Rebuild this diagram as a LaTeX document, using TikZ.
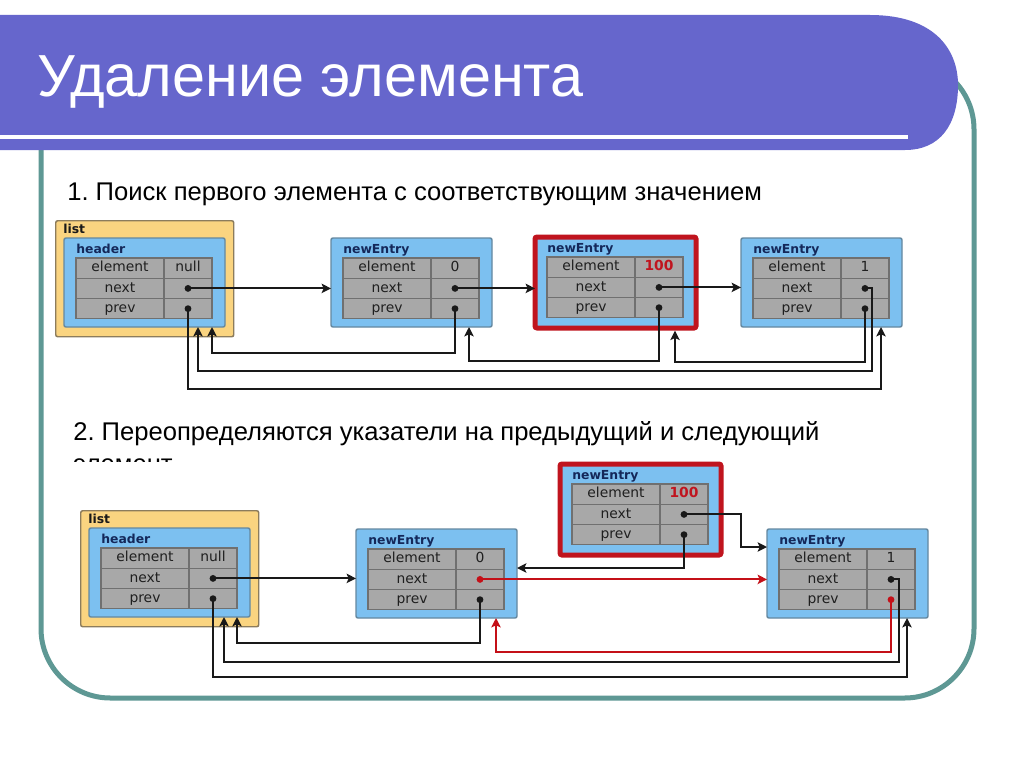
\documentclass[tikz,border=0pt]{standalone}
\usepackage{fontspec}
\setmainfont{Liberation Sans}
\newfontfamily\boxfont{DejaVu Sans}
\usetikzlibrary{arrows.meta, calc, positioning}
\definecolor{band}{RGB}{102,102,204}
\definecolor{frameteal}{RGB}{94,152,148}
\definecolor{listyellow}{RGB}{250,212,128}
\definecolor{listedge}{RGB}{140,124,92}
\definecolor{boxblue}{RGB}{124,192,240}
\definecolor{boxedge}{RGB}{100,136,160}
\definecolor{cellgray}{RGB}{168,168,168}
\definecolor{celledge}{RGB}{112,112,112}
\definecolor{tagblue}{RGB}{20,40,90}
\definecolor{hotred}{RGB}{192,20,30}
\definecolor{wirered}{RGB}{196,16,24}
\frenchspacing

\begin{document}
\begin{tikzpicture}[x=0.75pt, y=0.75pt,
	box/.style={draw=boxedge, fill=boxblue, line width=1.1pt, rounded corners=1.5pt,
		minimum width=120.75pt, minimum height=66.75pt, inner sep=0pt, outer sep=0pt, anchor=north west},
	hot/.style={draw=hotred, line width=3.75pt, minimum height=68.25pt},
	listbox/.style={draw=listedge, fill=listyellow, line width=1.1pt, rounded corners=1.5pt,
		minimum width=133.5pt, minimum height=87pt, inner sep=0pt, anchor=north west},
	tag/.style={anchor=base west, inner sep=0pt, text=tagblue, font=\boxfont\bfseries\fontsize{9.3}{9}\selectfont},
	cell/.style={draw=celledge, fill=cellgray, line width=0.9pt, inner sep=0pt, outer sep=0pt,
		minimum height=15.2pt, text height=7.5pt, text depth=2pt, text=black!88,
		font=\boxfont\fontsize{10.4}{11}\selectfont},
	keycell/.style={cell, minimum width=66pt},
	valcell/.style={cell, minimum width=36pt},
	wire/.style={draw=black!90, line width=1.4pt, shorten <=-2.5pt,
		{Circle[length=5pt]}-{Stealth[length=7pt, width=7pt, inset=1.5pt]}},
	redwire/.style={wire, draw=wirered},
	caption/.style={anchor=base west, inner sep=0pt, font=\fontsize{19.2}{23}\selectfont}]
	\def\entry#1#2#3#4#5#6{%
		\node[box, #6] (#1) at (#2,-#3) {};
		\node[tag] at ($(#1.north west)+(12,-15)$) {#4};
		\node[keycell, anchor=north west] (#1-ek) at ($(#1.north west)+(12,-20)$) {element};
		\node[valcell, right=0pt of #1-ek] (#1-ev) {#5};
		\node[keycell, below=0pt of #1-ek] (#1-nk) {next};
		\node[valcell, right=0pt of #1-nk] (#1-nv) {};
		\node[keycell, below=0pt of #1-nk] (#1-pk) {prev};
		\node[valcell, right=0pt of #1-pk] (#1-pv) {};
	}
	\def\hundred{\textcolor{hotred}{\bfseries 100}}
	\useasboundingbox (0,0) rectangle (1024,-767);
	\fill[white] (0,0) rectangle (1024,-767);
	\draw[frameteal, line width=3.75pt, rounded corners=52pt] (41,-60) rectangle (974,-698);
	\fill[band] (0,-15) -- (870,-15) .. controls (935,-15) and (958,-50) .. (958,-85)
		.. controls (958,-125) and (940,-150) .. (905,-150) -- (0,-150) -- cycle;
	\draw[white, line width=3pt] (0,-137) -- (908,-137);
	\node[anchor=base west, inner sep=0pt, text=white, font=\fontsize{44.5}{50}\selectfont] (title) at (37,-97) {Удаление элемента};
	\node[caption] (step1) at (67,-200) {1. Поиск первого элемента с соответствующим значением};
	\node[caption] (step2) at (73,-440) {2. Переопределяются указатели на предыдущий и следующий};
	\begin{scope}
		\clip (60,-445) rectangle (400,-461);
		\node[caption] (step2b) at (73,-472) {элемент};
	\end{scope}

	\node[listbox] (l1) at (55,-220) {};
	\node[tag, text=black!90] at ($(l1.north west)+(8,-13)$) {list};
	\entry{h1}{64}{238}{header}{null}{}
	\entry{a0}{331}{238}{newEntry}{0}{}
	\entry{a1}{535}{237}{newEntry}{\hundred}{hot}
	\entry{a2}{741}{238}{newEntry}{1}{}
	\draw[wire] (h1-nv.center) -- (h1-nv.center -| a0.west);
	\draw[wire] (a0-nv.center) -- (a0-nv.center -| a1.west);
	\draw[wire] (a1-nv.center) -- (a1-nv.center -| a2.west);
	\draw[wire] (a2-nv.center) -- ++(7,0) -- ++(0,-83) -| ($(h1-nv.center |- h1.south)+(10,0)$);
	\draw[wire] (a0-pv.center) -- ++(0,-44) -| ($(h1-pv.center |- h1.south)+(24,0)$);
	\draw[wire] (h1-pv.center) -- ++(0,-80) -| ($(a2-pv.center |- a2.south)+(16,0)$);
	\draw[wire] (a1-pv.center) -- ++(0,-53) -| ($(a0-pv.center |- a0.south)+(14,0)$);
	\draw[wire, shorten >=2pt] (a2-pv.center) -- ++(0,-53) -| ($(a1-pv.center |- a1.south)+(16,0)$);

	\node[listbox] (l2) at (80,-510) {};
	\node[tag, text=black!90] at ($(l2.north west)+(8,-13)$) {list};
	\entry{h2}{89}{528}{header}{null}{}
	\entry{b0}{356}{529}{newEntry}{0}{}
	\entry{b1}{560}{464}{newEntry}{\hundred}{hot}
	\entry{b2}{767}{529}{newEntry}{1}{}
	\draw[wire] (h2-nv.center) -- (h2-nv.center -| b0.west);
	\draw[redwire] (b0-nv.center) -- (b0-nv.center -| b2.west);
	\draw[wire] (b1-nv.center) -- ++(57,0) |- ($(b2.north west)+(0,-18)$);
	\draw[wire] (b1-pv.center) |- ($(b0.north east)+(0,-39)$);
	\draw[redwire] (b2-pv.center) -- ++(0,-52) -| ($(b0-pv.center |- b0.south)+(16,0)$);
	\draw[wire] (b0-pv.center) -- ++(0,-43) -| ($(h2-pv.center |- h2.south)+(24,0)$);
	\draw[wire] (b2-nv.center) -- ++(8,0) -- ++(0,-83) -| ($(h2-nv.center |- h2.south)+(11,0)$);
	\draw[wire] (h2-pv.center) -- ++(0,-78) -| ($(b2-pv.center |- b2.south)+(16,0)$);
\end{tikzpicture}
\end{document}
